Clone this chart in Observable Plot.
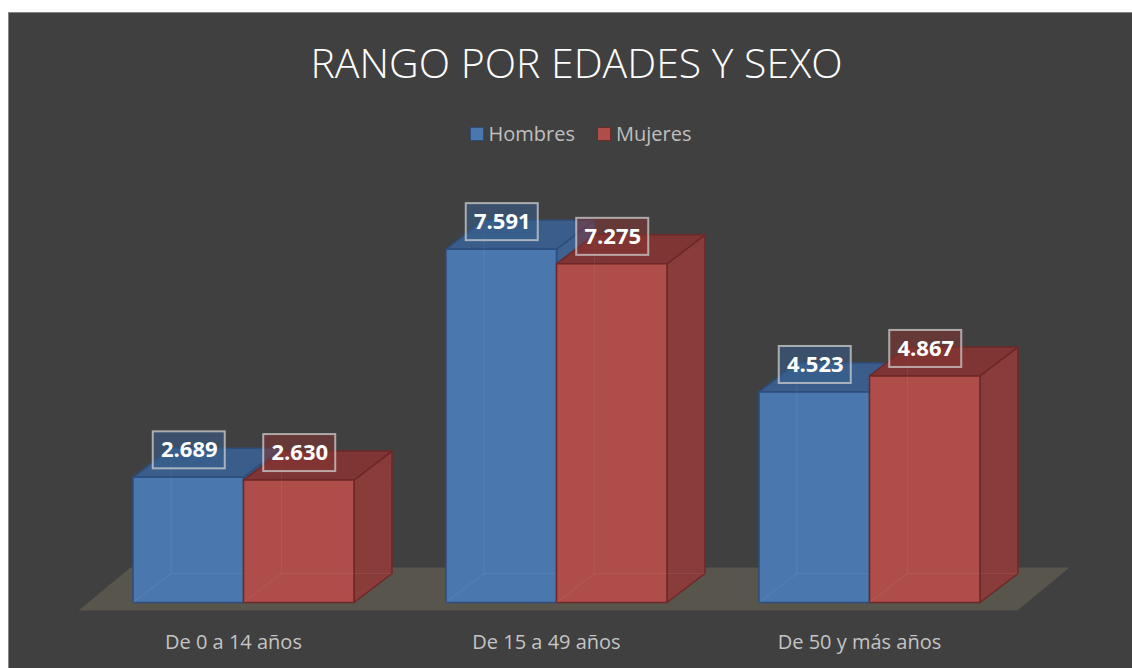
<!DOCTYPE html>
<html>
<head>
<meta charset="utf-8">
<script src="https://cdn.jsdelivr.net/npm/d3@7"></script>
<script src="https://cdn.jsdelivr.net/npm/@observablehq/plot@0.6"></script>
<style>
  html, body { margin: 0; padding: 0; background: #ffffff; }
  body { width: 1132px; height: 668px; position: relative; overflow: hidden; font-family: "Open Sans", "DejaVu Sans", sans-serif; }
  #panel { position: absolute; left: 8px; top: 12px; width: 1124px; height: 656px; background: #404040;
           border-left: 1px solid #858585; border-top: 1px solid #858585; box-sizing: border-box; overflow: hidden; }
  #title { position: absolute; left: 6px; top: 25px; width: 100%; text-align: center; color: #ffffff;
           font-size: 41px; line-height: 48px; font-weight: 300; white-space: nowrap; }
  #legend { position: absolute; left: 0; top: 107px; width: 100%; height: 28px; display: flex; justify-content: center;
            align-items: center; gap: 22px; color: #bfbfbf; font-size: 20px; line-height: 28px; padding-left: 20px; box-sizing: border-box; }
  .item { display: flex; align-items: center; gap: 5px; }
  .sw { width: 12px; height: 12px; border: 1px solid; }
  #chart { position: absolute; left: 0; top: 147px; }
</style>
</head>
<body>
<div id="panel">
  <div id="title">RANGO POR EDADES Y SEXO</div>
  <div id="legend"></div>
  <div id="chart"></div>
</div>
<script>
// ---- data ----
const categories = ["De 0 a 14 años", "De 15 a 49 años", "De 50 y más años"];
const series = ["Hombres", "Mujeres"];
const hombres = [2689, 7591, 4523];
const mujeres = [2630, 7275, 4867];
const yDomain = [0, 8000];

// ---- styles ----
const palette = {
  Hombres: { front: "#4a77ae", top: "#3a5d8b", side: "#3d6191", edge: "#2c4e7d", box: "#375e8e" },
  Mujeres: { front: "#ae4d49", top: "#7e3533", side: "#8a3c3b", edge: "#6c2927", box: "#843331" }
};

const W = 1123, H = 508;
const xRange = [77.5, 1016.5];
const yRange = [442, 69.6];
const pxPerY = (yRange[0] - yRange[1]) / (yDomain[1] - yDomain[0]);
const pxPerX = (xRange[1] - xRange[0]) / 3;
const barW = 0.353, groupPad = 0.147;
const DXpx = 38, DYpx = 29;
const DX = DXpx / pxPerX, DY = DYpx / pxPerY;

const values = { Hombres: hombres, Mujeres: mujeres };
const fmt = d3.formatLocale({ decimal: ",", thousands: ".", grouping: [3] }).format(",d");

// legend
const legend = document.getElementById("legend");
for (const s of series) {
  const it = document.createElement("div"); it.className = "item";
  const sw = document.createElement("div"); sw.className = "sw";
  sw.style.background = palette[s].front; sw.style.borderColor = palette[s].edge;
  const t = document.createElement("span"); t.textContent = s;
  it.appendChild(sw); it.appendChild(t); legend.appendChild(it);
}

// build polygons
function faces(s) {
  const front = [], top = [], side = [], inner = [];
  values[s].forEach((v, i) => {
    const si = series.indexOf(s);
    const x0 = i + groupPad + si * barW, x1 = x0 + barW;
    const id = s + i;
    [[x0, 0], [x1, 0], [x1, v], [x0, v], [x0, 0]].forEach(([x, y]) => front.push({ id, x, y }));
    [[x0, v], [x1, v], [x1 + DX, v + DY], [x0 + DX, v + DY], [x0, v]].forEach(([x, y]) => top.push({ id, x, y }));
    [[x1, 0], [x1 + DX, DY], [x1 + DX, v + DY], [x1, v], [x1, 0]].forEach(([x, y]) => side.push({ id, x, y }));
    // hidden back edges seen through the translucent faces
    [[x0 + DX, v + DY], [x0 + DX, DY], [x1 + DX, DY]].forEach(([x, y]) => inner.push({ id: id + "a", x, y }));
    [[x0, 0], [x0 + DX, DY]].forEach(([x, y]) => inner.push({ id: id + "b", x, y }));
  });
  return { front, top, side, inner };
}

// floor
const fl = { x0: -0.027, x1: 2.973, yFront: -8 / pxPerY, dx: 52 / pxPerX, dy: 43 / pxPerY };
const floor = [[fl.x0, fl.yFront], [fl.x1, fl.yFront], [fl.x1 + fl.dx, fl.yFront + fl.dy], [fl.x0 + fl.dx, fl.yFront + fl.dy]]
  .map(([x, y]) => ({ x, y }));

const marks = [
  Plot.line(floor, { x: "x", y: "y", fill: "#58554d", stroke: "none", curve: "linear" })
];
for (const s of series) {
  const f = faces(s), c = palette[s];
  marks.push(
    Plot.line(f.side, { x: "x", y: "y", z: "id", fill: c.side, stroke: c.edge, strokeWidth: 1.5, strokeLinejoin: "round" }),
    Plot.line(f.top, { x: "x", y: "y", z: "id", fill: c.top, stroke: c.edge, strokeWidth: 1.5, strokeLinejoin: "round" }),
    Plot.line(f.front, { x: "x", y: "y", z: "id", fill: c.front, stroke: c.edge, strokeWidth: 1.5, strokeLinejoin: "round" }),
    Plot.line(f.inner, { x: "x", y: "y", z: "id", stroke: "#ffffff", strokeOpacity: 0.06, strokeWidth: 1.2 })
  );
}

// value labels
const labels = [];
series.forEach((s, si) => values[s].forEach((v, i) => {
  labels.push({ s, v, x: i + groupPad + si * barW + barW / 2, text: fmt(v) });
}));
for (const s of series) {
  const L = labels.filter(d => d.s === s);
  marks.push(
    Plot.rect(L, { x1: "x", x2: "x", y1: "v", y2: "v", insetLeft: -36, insetRight: -36, insetTop: -18.5, insetBottom: -18.5,
      dx: 1, dy: -27, fill: palette[s].box, fillOpacity: 0.55, stroke: "#cfcfcf", strokeOpacity: 0.75, strokeWidth: 2 })
  );
}
marks.push(
  Plot.text(labels, { x: "x", y: "v", text: "text", dx: 1, dy: -27, fill: "#ffffff", fontSize: 22, fontWeight: "bold",
    fontFamily: "Open Sans", textAnchor: "middle", lineAnchor: "middle" })
);

// category labels
marks.push(
  Plot.text(categories, { x: (d, i) => i + 0.468, y: () => 0, text: d => d, dy: 40, fill: "#c4c4c4", fontSize: 20,
    fontFamily: "Open Sans", textAnchor: "middle", lineAnchor: "middle" })
);

const chart = Plot.plot({
  width: W, height: H,
  marginTop: 0, marginBottom: 0, marginLeft: 0, marginRight: 0,
  x: { type: "linear", domain: [0, 3], range: xRange, axis: null },
  y: { type: "linear", domain: yDomain, range: yRange, axis: null },
  style: { background: "transparent", overflow: "visible" },
  marks
});
document.getElementById("chart").appendChild(chart);
</script>
</body>
</html>
